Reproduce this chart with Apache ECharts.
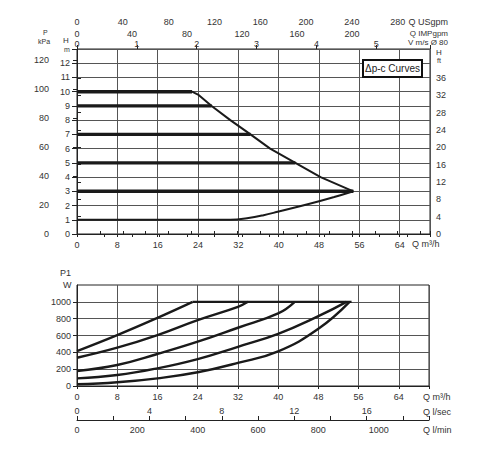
<!DOCTYPE html>
<html>
<head>
<meta charset="utf-8">
<script src="https://cdn.jsdelivr.net/npm/echarts@6/dist/echarts.min.js"></script>
<style>
html,body{margin:0;padding:0;background:#fff;}
#c{width:500px;height:450px;}
</style>
</head>
<body>
<div id="c"></div>
<script>
// ---- tick labels ----
const qM3hTicks = [0, 8, 16, 24, 32, 40, 48, 56, 64];
const headMTicks = [0, 1, 2, 3, 4, 5, 6, 7, 8, 9, 10, 11, 12];
const pressureKpaTicks = [0, 20, 40, 60, 80, 100, 120];
const headFtTicks = [0, 4, 8, 12, 16, 20, 24, 28, 32, 36];
const usgpmTicks = [0, 40, 80, 120, 160, 200, 240, 280];
const impgpmTicks = [0, 40, 80, 120, 160, 200];
const velocityTicks = [0, 1, 2, 3, 4, 5];
const powerTicks = [0, 200, 400, 600, 800, 1000];
const lsecTicks = [0, 4, 8, 12, 16];
const lminTicks = [0, 200, 400, 600, 800, 1000];

// ---- Δp-c head curves (Q m3/h, H m) ----
const dpcLevels = [10, 9, 7, 5, 3];
const dpcEnds = [22.8, 26.7, 34.4, 43.3, 54.8];
const maxCurveQ = [0, 22.8, 24, 26.7, 30.4, 34.4, 38.3, 43.3, 48.3, 54.8];
const maxCurveH = [10, 10, 9.8, 9, 8, 7, 6, 5, 4, 3];
const minCurveQ = [0, 30.4, 34, 37, 40, 44, 48, 51, 54.8];
const minCurveH = [1, 1, 1.12, 1.32, 1.58, 1.93, 2.3, 2.6, 3];

// ---- P1 power curves (Q m3/h, W) ----
const p1CapQ = [23, 54.6];
const p1CapW = [1000, 1000];
const p1aQ = [0, 8, 16, 23];
const p1aW = [415, 605, 810, 1000];
const p1bQ = [0, 8, 16, 24, 32, 34];
const p1bW = [336, 455, 605, 783, 941, 1000];
const p1cQ = [0, 8, 16, 24, 32, 40, 43.3];
const p1cW = [178, 249, 380, 526, 692, 862, 1000];
const p1dQ = [0, 8, 16, 24, 32, 40, 48, 53.6];
const p1dW = [91, 130, 210, 320, 466, 620, 830, 1000];
const p1eQ = [0, 8, 16, 24, 32, 40, 48, 54.2];
const p1eW = [20, 44, 91, 163, 275, 412, 680, 1000];

// unit conversions
const Q_MAX = 70;
const H_MAX = 13;
const KPA_PER_M = 9.807;
const FT_PER_M = 3.2808;
const USGPM_PER_M3H = 4.4029;
const IMPGPM_PER_M3H = 3.6662;
const M3H_PER_MS = 11.87;
const LSEC_PER_M3H = 1 / 3.6;
const LMIN_PER_M3H = 1000 / 60;

const FONT = 'Liberation Sans, Arial, sans-serif';
const TXT = '#333';
const GRIDC = '#555';
const LINEC = '#1a1a1a';

function zip(a, b) { return a.map((v, i) => [v, b[i]]); }
function only(list) {
  return function (v) {
    for (const t of list) if (Math.abs(t - v) < 1e-6) return String(t);
    return '';
  };
}
const lbl = (list, extra) => Object.assign({
  fontSize: 9, color: TXT, fontFamily: FONT, formatter: only(list), customValues: list
}, extra || {});

const chart = echarts.init(document.getElementById('c'), null, { renderer: 'svg' });

const series = [];
dpcLevels.forEach((h, i) => {
  series.push({
    type: 'line', xAxisIndex: 0, yAxisIndex: 0, symbol: 'none', silent: true,
    lineStyle: { color: LINEC, width: 3.4 },
    data: [[0, h], [dpcEnds[i], h]]
  });
});
series.push({
  type: 'line', xAxisIndex: 0, yAxisIndex: 0, symbol: 'none', silent: true,
  lineStyle: { color: LINEC, width: 2 },
  data: zip(maxCurveQ, maxCurveH)
});
series.push({
  type: 'line', xAxisIndex: 0, yAxisIndex: 0, symbol: 'none', silent: true,
  smooth: 0.4,
  lineStyle: { color: LINEC, width: 2 },
  data: zip(minCurveQ, minCurveH)
});
[[p1CapQ, p1CapW], [p1aQ, p1aW], [p1bQ, p1bW], [p1cQ, p1cW], [p1dQ, p1dW], [p1eQ, p1eW]].forEach(([q, w]) => {
  series.push({
    type: 'line', xAxisIndex: 4, yAxisIndex: 3, symbol: 'none', silent: true,
    smooth: 0.45,
    lineStyle: { color: LINEC, width: 2.4 },
    data: zip(q, w)
  });
});

const axisLineBlack = { show: true, lineStyle: { color: '#222', width: 1 } };
const splitGrey = { show: true, lineStyle: { color: GRIDC, width: 1 } };
const tick = (len, extra) => Object.assign({ show: true, length: len, lineStyle: { color: '#222' } }, extra || {});

const option = {
  animation: false,
  backgroundColor: '#fff',
  grid: [
    { left: 77, top: 49, width: 353, height: 185, show: true, borderColor: '#222', borderWidth: 1 },
    { left: 77, top: 285, width: 352, height: 101, show: true, borderColor: '#222', borderWidth: 1 }
  ],
  xAxis: [
    { // 0 Q m3/h (top chart)
      type: 'value', gridIndex: 0, position: 'bottom', min: 0, max: Q_MAX, interval: 8,
      axisLine: axisLineBlack, axisTick: tick(3),
      axisLabel: lbl(qM3hTicks, { margin: 6 }), splitLine: splitGrey
    },
    { // 1 USgpm
      type: 'value', gridIndex: 0, position: 'top', offset: 21, min: 0, max: Q_MAX * USGPM_PER_M3H, interval: 20,
      axisLine: axisLineBlack, axisTick: tick(3),
      axisLabel: lbl(usgpmTicks, { margin: 2, customValues: undefined }), splitLine: { show: false }
    },
    { // 2 IMPgpm
      type: 'value', gridIndex: 0, position: 'top', offset: 21, min: 0, max: Q_MAX * IMPGPM_PER_M3H, interval: 20,
      axisLine: { show: false }, axisTick: tick(3, { inside: true }),
      axisLabel: lbl(impgpmTicks, { inside: true, margin: 1, customValues: undefined }), splitLine: { show: false }
    },
    { // 3 velocity m/s DN80
      type: 'value', gridIndex: 0, position: 'top', offset: 0, min: 0, max: Q_MAX / M3H_PER_MS, interval: 1,
      axisLine: { show: false }, axisTick: tick(4),
      axisLabel: lbl(velocityTicks, { margin: 1 }), splitLine: { show: false }
    },
    { // 4 Q m3/h (bottom chart)
      type: 'value', gridIndex: 1, position: 'bottom', min: 0, max: Q_MAX, interval: 8,
      axisLine: axisLineBlack, axisTick: tick(3),
      axisLabel: lbl(qM3hTicks, { margin: 6 }), splitLine: splitGrey
    },
    { // 5 l/sec
      type: 'value', gridIndex: 1, position: 'bottom', offset: 34, min: 0, max: Q_MAX * LSEC_PER_M3H, interval: 2,
      axisLine: axisLineBlack, axisTick: tick(4, { inside: true }),
      axisLabel: lbl(lsecTicks, { inside: true, margin: 5, customValues: undefined }), splitLine: { show: false }
    },
    { // 6 l/min
      type: 'value', gridIndex: 1, position: 'bottom', offset: 34, min: 0, max: Q_MAX * LMIN_PER_M3H, interval: 200,
      axisLine: { show: false }, axisTick: { show: false },
      axisLabel: lbl(lminTicks, { margin: 5 }), splitLine: { show: false }
    }
  ],
  yAxis: [
    { // 0 H m
      type: 'value', gridIndex: 0, position: 'left', min: 0, max: H_MAX, interval: 1,
      axisLine: axisLineBlack, axisTick: tick(5),
      axisLabel: lbl(headMTicks, { margin: 7 }), splitLine: splitGrey
    },
    { // 1 kPa
      type: 'value', gridIndex: 0, position: 'left', offset: 23, min: 0, max: H_MAX * KPA_PER_M, interval: 20,
      axisLine: axisLineBlack, axisTick: tick(4, { customValues: pressureKpaTicks }),
      axisLabel: lbl(pressureKpaTicks, { margin: 5 }), splitLine: { show: false }
    },
    { // 2 H ft
      type: 'value', gridIndex: 0, position: 'right', min: 0, max: H_MAX * FT_PER_M, interval: 4,
      axisLine: axisLineBlack, axisTick: tick(4, { customValues: headFtTicks }),
      axisLabel: lbl(headFtTicks, { margin: 6 }), splitLine: { show: false }
    },
    { // 3 P1 W
      type: 'value', gridIndex: 1, position: 'left', min: 0, max: 1200, interval: 200,
      axisLine: axisLineBlack, axisTick: tick(4, { customValues: powerTicks }),
      axisLabel: lbl(powerTicks, { margin: 6 }), splitLine: splitGrey
    }
  ],
  graphic: [
    { type: 'text', left: 43, top: 29, style: { text: 'P', font: '7px ' + FONT, fill: TXT } },
    { type: 'text', left: 38, top: 38, style: { text: 'kPa', font: '7px ' + FONT, fill: TXT } },
    { type: 'text', left: 63, top: 36, style: { text: 'H', font: '8px ' + FONT, fill: TXT } },
    { type: 'text', left: 64, top: 46, style: { text: 'm', font: '7px ' + FONT, fill: TXT } },
    { type: 'text', left: 436, top: 48, style: { text: 'H', font: '8px ' + FONT, fill: TXT } },
    { type: 'text', left: 437, top: 57, style: { text: 'ft', font: '7px ' + FONT, fill: TXT } },
    { type: 'text', right: 52, top: 17, style: { text: 'Q USgpm', font: '9px ' + FONT, fill: TXT } },
    { type: 'text', right: 52, top: 29, style: { text: 'Q IMPgpm', font: '8px ' + FONT, fill: TXT } },
    { type: 'text', right: 52, top: 38, style: { text: 'V m/s Ø 80', font: '8px ' + FONT, fill: TXT } },
    { type: 'text', left: 412, top: 239, style: { text: 'Q m³/h', font: '9px ' + FONT, fill: TXT } },
    {
      type: 'rect', shape: { x: 363, y: 60, width: 59, height: 17 },
      style: { fill: '#fff', stroke: '#111', lineWidth: 2 }, z: 100
    },
    {
      type: 'text', x: 392.5, y: 68.5, z: 101,
      style: { text: 'Δp-c Curves', font: '10px ' + FONT, fill: '#222', align: 'center', verticalAlign: 'middle' }
    },
    { type: 'text', left: 60, top: 268, style: { text: 'P1', font: '9px ' + FONT, fill: TXT } },
    { type: 'text', left: 63, top: 280, style: { text: 'W', font: '9px ' + FONT, fill: TXT } },
    { type: 'text', left: 423, top: 392, style: { text: 'Q m³/h', font: '9px ' + FONT, fill: TXT } },
    { type: 'text', left: 423, top: 407, style: { text: 'Q l/sec', font: '9px ' + FONT, fill: TXT } },
    { type: 'text', left: 423, top: 425, style: { text: 'Q l/min', font: '9px ' + FONT, fill: TXT } }
  ],
  series: series
};
chart.setOption(option);
</script>
</body>
</html>
